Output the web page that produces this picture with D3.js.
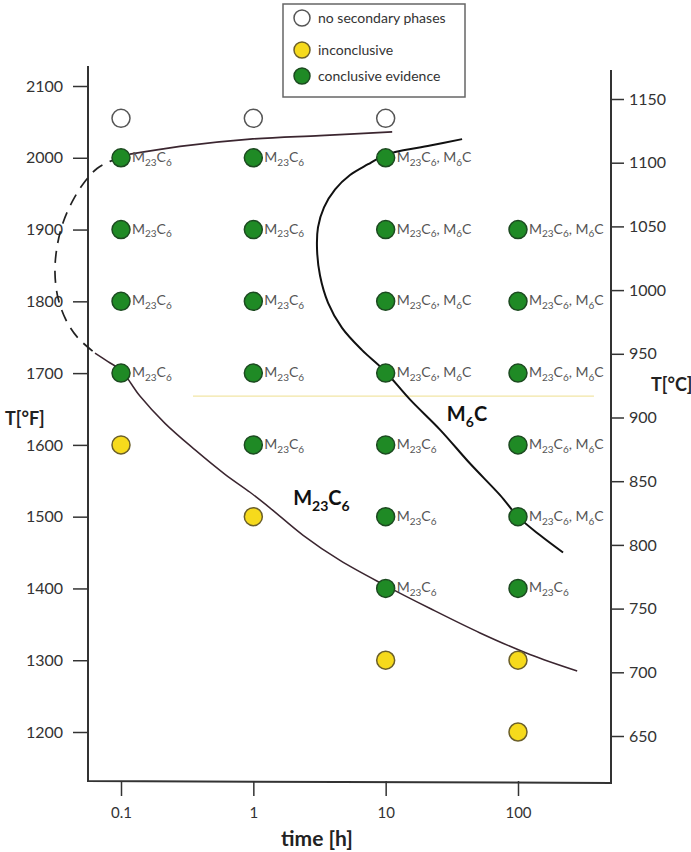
<!DOCTYPE html>
<html>
<head>
<meta charset="utf-8">
<style>
  body { margin: 0; background: #fff; }
  svg { display: block; font-family: Lato, "Open Sans", sans-serif; }
</style>
</head>
<body>
<svg></svg>
<script src="https://cdn.jsdelivr.net/npm/d3@7/dist/d3.min.js"></script>
<script>
// tick values of the three axes
var timeTicks = [0.1, 1, 10, 100],
    fTicks = [1200, 1300, 1400, 1500, 1600, 1700, 1800, 1900, 2000, 2100],
    cTicks = [650, 700, 750, 800, 850, 900, 950, 1000, 1050, 1100, 1150];

// measured points: time [h], temperature [F], result (0 none, 1 inconclusive, 2 conclusive), phases
var pointTime = [0.1, 1, 10,
                 0.1, 1, 10,
                 0.1, 1, 10, 100,
                 0.1, 1, 10, 100,
                 0.1, 1, 10, 100,
                 0.1, 1, 10, 100,
                 1, 10, 100,
                 10, 100,
                 10, 100,
                 100];
var pointTemp = [2055, 2055, 2055,
                 2000, 2000, 2000,
                 1900, 1900, 1900, 1900,
                 1800, 1800, 1800, 1800,
                 1700, 1700, 1700, 1700,
                 1600, 1600, 1600, 1600,
                 1500, 1500, 1500,
                 1400, 1400,
                 1300, 1300,
                 1200];
var pointResult = [0, 0, 0,
                   2, 2, 2,
                   2, 2, 2, 2,
                   2, 2, 2, 2,
                   2, 2, 2, 2,
                   1, 2, 2, 2,
                   1, 2, 2,
                   2, 2,
                   1, 1,
                   1];
var pointPhases = ["", "", "",
                   "M23C6", "M23C6", "M23C6, M6C",
                   "M23C6", "M23C6", "M23C6, M6C", "M23C6, M6C",
                   "M23C6", "M23C6", "M23C6, M6C", "M23C6, M6C",
                   "M23C6", "M23C6", "M23C6, M6C", "M23C6, M6C",
                   "", "M23C6", "M23C6", "M23C6, M6C",
                   "", "M23C6", "M23C6, M6C",
                   "M23C6", "M23C6",
                   "", "",
                   ""];

// phase boundaries as [time h, T F]
var m23Dashed = [[0.1, 2000], [0.0826, 1995], [0.0659, 1985], [0.0534, 1967], [0.0434, 1941],
                 [0.0364, 1909], [0.0328, 1875], [0.0317, 1840], [0.0334, 1805], [0.0384, 1774],
                 [0.0473, 1749], [0.0636, 1728]];
var m23Upper = [[0.117, 2005], [0.279, 2016], [0.944, 2026], [3.19, 2031], [11.2, 2036]];
var m23Lower = [[0.0636, 1728], [0.0797, 1716], [0.1, 1704], [0.139, 1668], [0.215, 1630],
                [0.363, 1593], [0.611, 1559], [0.944, 1534], [1.34, 1512], [2.38, 1474],
                [4.52, 1439], [9.72, 1405], [21.7, 1372], [51.7, 1338], [123, 1308], [280, 1285]];
var m6cLine = [[37.8, 2026], [21.7, 2017], [11.8, 2008], [9.23, 2001], [7.36, 1991], [5.38, 1976],
               [4.15, 1956], [3.42, 1931], [3.08, 1903], [3.03, 1872], [3.19, 1836], [3.67, 1798],
               [4.68, 1763], [6.63, 1732], [9.72, 1704], [15.3, 1663], [25.8, 1621], [43.4, 1574],
               [73.2, 1530], [100, 1500], [147, 1474], [219, 1450]];
var refLineTemp = 1668,
    refLineTimes = [0.35, 375];

// region labels: text, time, T
var regionText = ["M23C6", "M6C"],
    regionTime = [2.0, 29],
    regionTemp = [1516, 1633];

var legendLabels = ["no secondary phases", "inconclusive", "conclusive evidence"];
var resultFill = ["#ffffff", "#f6da1c", "#1f8a25"],
    resultStroke = ["#555555", "#6b5f2a", "#1c4a20"];

var svg = d3.select("svg").attr("width", 691).attr("height", 852),
    g = svg.append("g"),
    frameLeft = 88,
    frameRight = 611,
    frameBottom = 781;

var x = d3.scaleLog().domain([0.1, 100]).range([121, 518]),
    yF = d3.scaleLinear().domain([1200, 2100]).range([732, 86]),
    yC = d3.scaleLinear().domain([650, 1150]).range([736, 99]);

var line = d3.line()
    .x(function(d) { return x(d[0]); })
    .y(function(d) { return yF(d[1]); })
    .curve(d3.curveCatmullRom);

// writes "M23C6" style text with subscript digits
function formula(text, str, size, subSize) {
  var wasSub = false;
  str.match(/\d+|[^\d]+/g).forEach(function(p) {
    var isSub = /^\d+$/.test(p),
        dy = isSub && !wasSub ? size * 0.28 : (!isSub && wasSub ? -size * 0.28 : 0);
    text.append("tspan").attr("font-size", subSize && isSub ? subSize : size).attr("dy", dy).text(p);
    wasSub = isSub;
  });
}

// frame lines
g.append("path")
    .attr("d", "M" + frameLeft + ",66 L" + frameLeft + "," + frameBottom + " L" + frameRight + "," + (frameBottom + 2) + " L" + frameRight + ",70")
    .attr("fill", "none").attr("stroke", "#333").attr("stroke-width", 2);

// left axis
var axL = g.append("g")
    .attr("transform", "translate(" + frameLeft + ",0)")
    .call(d3.axisLeft(yF).tickValues(fTicks).tickSize(15).tickPadding(10).tickFormat(d3.format("d")));
// right axis
var axR = g.append("g")
    .attr("transform", "translate(" + frameRight + ",0)")
    .call(d3.axisRight(yC).tickValues(cTicks).tickSize(13).tickPadding(5).tickFormat(d3.format("d")));
// bottom axis
var axB = g.append("g")
    .attr("transform", "translate(0," + frameBottom + ")")
    .call(d3.axisBottom(x).tickValues(timeTicks).tickSize(15).tickPadding(11).tickFormat(function(d) { return String(d); }));

[axL, axR, axB].forEach(function(a) {
  a.select(".domain").remove();
  a.selectAll(".tick line").attr("stroke", "#333").attr("stroke-width", 1.5);
  a.selectAll(".tick text").attr("fill", "#333").attr("font-size", 16).attr("font-family", "Lato, sans-serif");
});
axB.selectAll(".tick text").attr("font-size", 15);

// axis titles
g.append("text").attr("x", 5).attr("y", 425).attr("font-size", 18).attr("font-weight", "bold").attr("fill", "#222").text("T[°F]");
g.append("text").attr("x", 651).attr("y", 391).attr("font-size", 18).attr("font-weight", "bold").attr("fill", "#222").text("T[°C]");
g.append("text").attr("x", 317).attr("y", 846).attr("text-anchor", "middle").attr("font-size", 21).attr("font-weight", "bold").attr("fill", "#222").text("time [h]");

// pale reference line
g.append("line")
    .attr("x1", x(refLineTimes[0])).attr("x2", x(refLineTimes[1]))
    .attr("y1", yF(refLineTemp)).attr("y2", yF(refLineTemp))
    .attr("stroke", "#f2e6a6").attr("stroke-width", 1.2);

// boundaries
g.append("path").datum(m23Dashed).attr("d", line)
    .attr("fill", "none").attr("stroke", "#222").attr("stroke-width", 1.7).attr("stroke-dasharray", "12,8");
g.append("path").datum(m23Upper).attr("d", line)
    .attr("fill", "none").attr("stroke", "#3b2630").attr("stroke-width", 1.7);
g.append("path").datum(m23Lower).attr("d", line)
    .attr("fill", "none").attr("stroke", "#3b2630").attr("stroke-width", 1.5);
g.append("path").datum(m6cLine).attr("d", line)
    .attr("fill", "none").attr("stroke", "#111").attr("stroke-width", 2);

// points
var pts = d3.range(pointTime.length);
g.selectAll("circle.pt").data(pts).enter().append("circle")
    .attr("class", "pt")
    .attr("cx", function(i) { return x(pointTime[i]); })
    .attr("cy", function(i) { return yF(pointTemp[i]); })
    .attr("r", 9)
    .attr("fill", function(i) { return resultFill[pointResult[i]]; })
    .attr("stroke", function(i) { return resultStroke[pointResult[i]]; })
    .attr("stroke-width", 1.5);

pts.filter(function(i) { return pointPhases[i]; }).forEach(function(i) {
  var t = g.append("text")
      .attr("x", x(pointTime[i]) + 11)
      .attr("y", yF(pointTemp[i]) + 4)
      .attr("fill", "#555");
  formula(t, pointPhases[i], 14, 10);
});

// region labels
regionText.forEach(function(s, i) {
  var t = g.append("text")
      .attr("x", x(regionTime[i]))
      .attr("y", yF(regionTemp[i]))
      .attr("font-weight", "bold").attr("fill", "#111");
  formula(t, s, 20, 14);
});

// legend
var legend = g.append("g").attr("transform", "translate(283,4)");
legend.append("rect").attr("width", 182).attr("height", 93)
    .attr("fill", "#fff").attr("stroke", "#666").attr("stroke-width", 1.5);
var legendY = [14, 46, 72];
legendLabels.forEach(function(s, i) {
  legend.append("circle").attr("cx", 19).attr("cy", legendY[i]).attr("r", 8)
      .attr("fill", resultFill[i]).attr("stroke", resultStroke[i]).attr("stroke-width", 1.5);
  legend.append("text").attr("x", 35).attr("y", legendY[i] + 5)
      .attr("font-size", 14).attr("fill", "#333").text(s);
});
</script>
</body>
</html>
